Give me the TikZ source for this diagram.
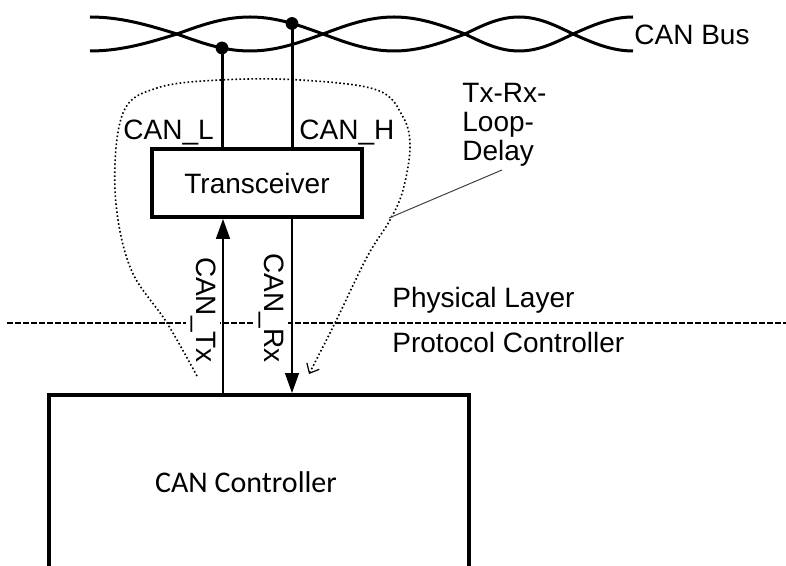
\documentclass[tikz,border=0pt]{standalone}
\usepackage{fontspec}
\setmainfont{Liberation Sans}
\newfontfamily\carlito{Carlito}
\usetikzlibrary{calc, positioning, arrows.meta}

\begin{document}
\begin{tikzpicture}[x=0.5pt, y=-0.5pt,
    txt/.style={font=\fontsize{14}{14.5}\selectfont, inner sep=0pt},
    wire/.style={line width=1.5pt},
    box/.style={draw, line width=1.9pt, inner sep=0pt},
    sig/.style={line width=0.7pt, -{Triangle[length=10pt, width=7pt]}},
    loop/.style={dash pattern=on 0.8pt off 1.2pt, line width=0.8pt,
      -{Straight Barb[length=4pt, width=7pt, line width=0.6pt]}},
    rotlbl/.style={txt, rotate=-90, fill=white, inner sep=2pt}
  ]
      \clip (0,0) rectangle (786,566);

      % twisted pair
      \draw[wire] (90,17) cos (177,34) sin (250,51) cos (323,34) sin (394,17)
        cos (465,34) sin (519,51) cos (573,34) sin (633,17);
      \draw[wire] (90,51) cos (177,34) sin (250,17) cos (323,34) sin (394,51)
        cos (465,34) sin (519,17) cos (573,34) sin (633,51);
      \node[txt, anchor=base west] (bus) at (634,45) {CAN Bus};

      % boxes
      \node[box, minimum width=105pt, minimum height=34pt] (trx) at (257,183)
        {\fontsize{14}{17}\selectfont Transceiver};
      \node[box, anchor=north west, minimum width=210pt, minimum height=130pt]
        (ctrl) at (47,393) {};
      \node[font=\carlito\fontsize{15}{18}\selectfont] (ctrltxt) at (246,482)
        {CAN Controller};

      % bus taps
      \coordinate (dotL) at (222,48);
      \coordinate (dotH) at (292,23.5);
      \draw[line width=1.5pt] (dotL) -- (trx.north -| dotL);
      \draw[line width=1.5pt] (dotH) -- (trx.north -| dotH);
      \fill (dotL) circle (3.2pt);
      \fill (dotH) circle (3.2pt);
      \node[txt, anchor=base west] (canl) at (123,140) {CAN\_L};
      \node[txt, anchor=base west] (canh) at (299,140) {CAN\_H};

      % layer border
      \draw[line width=1.3pt, dash pattern=on 2.8pt off 1.2pt] (7,323) -- (786,323);
      \node[txt, anchor=base west] (phy) at (392,307) {Physical Layer};
      \node[txt, anchor=base west] (prot) at (392,352) {Protocol Controller};

      % Tx / Rx signals
      \coordinate (txx) at (223,0);
      \coordinate (rxx) at (292,0);
      \node[rotlbl] (tx) at (203,310) {CAN\_Tx};
      \node[rotlbl] (rx) at (271,308) {CAN\_Rx};
      \draw[sig] (ctrl.north -| txx) -- (trx.south -| txx);
      \draw[sig] (trx.south -| rxx) -- (ctrl.north -| rxx);

      % loop delay
      \draw[loop] plot[smooth, tension=0.6] coordinates {(197,376) (167,323)
        (130,267) (115,190) (123,113) (157,88) (220,80) (300,80) (377,90)
        (403,117) (410,147) (403,190) (390,220) (367,257) (335,323) (309,374)};
      \node[txt, anchor=base west, align=left] (delay) at (462,161)
        {Tx-Rx-\\Loop-\\Delay};
      \coordinate (lead) at (389,218);
      \draw[line width=0.5pt, black!75] (502,170) -- (lead);
    \end{tikzpicture}
\end{document}
